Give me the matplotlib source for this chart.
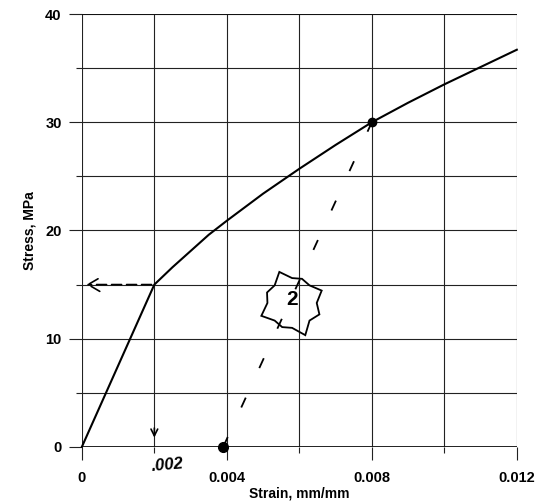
import numpy as np
import matplotlib.pyplot as plt
from matplotlib.patches import Polygon

# stress-strain curve
strain = [0.0, 0.002, 0.0025, 0.003, 0.0035, 0.004, 0.005, 0.006, 0.007, 0.008,
          0.009, 0.010, 0.011, 0.012]
stress = [0.0, 15.0, 16.6, 18.1, 19.6, 20.9, 23.4, 25.7, 27.9, 30.0,
          31.8, 33.5, 35.1, 36.7]

# unloading line (offset), hand drawn
unload_strain = [0.0039, 0.008]
unload_stress = [0.0, 30.0]

xticks = [0, 0.004, 0.008, 0.012]
xtick_labels = ['0', '0.004', '0.008', '0.012']
yticks = [0, 10, 20, 30, 40]

plt.rcParams['font.family'] = ['Liberation Sans', 'DejaVu Sans']
plt.rcParams['font.weight'] = 'bold'

fig = plt.figure(figsize=(5.35, 5.01), dpi=100)
ax = fig.add_axes([0.153, 0.108, 0.813, 0.864])

ax.set_xlim(0, 0.012)
ax.set_ylim(0, 40)
for s in ax.spines.values():
    s.set_visible(False)

ax.set_xticks(xticks)
ax.set_xticklabels(xtick_labels)
ax.set_yticks(yticks)
ax.set_xticks([0.002, 0.006, 0.010], minor=True)
ax.set_yticks([5, 15, 25, 35], minor=True)
ax.tick_params(which='major', direction='out', length=9.5, width=0.8, color='#222222',
               labelsize=10.5, pad=5)
ax.tick_params(axis='x', which='major', pad=8)
ax.tick_params(which='minor', direction='out', length=4.5, width=0.8, color='#222222')
ax.grid(True, which='both', color='#222222', linewidth=0.8)
ax.set_axisbelow(True)
for v in [0, 40]:
    ax.axhline(v, color='#111111', linewidth=1.3, zorder=1)

ax.plot(strain, stress, color='black', linewidth=1.5, zorder=3, clip_on=False)

ax.set_xlabel('Strain, mm/mm', fontsize=10, fontweight='bold', labelpad=1)
ax.set_ylabel('Stress, MPa', fontsize=10, fontweight='bold', labelpad=6)

# hand annotations
ax.plot(unload_strain, unload_stress, color='black', linewidth=1.3,
        dashes=(6, 18), zorder=3)
ax.plot([unload_strain[0]], [unload_stress[0]], 'o', color='black', markersize=7,
        zorder=4, clip_on=False)
ax.plot([unload_strain[1]], [unload_stress[1]], 'o', color='black', markersize=6,
        zorder=4)
ax.annotate('', xy=(0.00005, 15), xytext=(0.002, 15),
            arrowprops=dict(arrowstyle='->,head_length=0.6,head_width=0.35',
                            color='black', lw=1.2,
                            linestyle=(0, (6, 3)), mutation_scale=14))
ax.annotate('', xy=(0.002, 0.6), xytext=(0.002, 2.0),
            arrowprops=dict(arrowstyle='->', color='black', lw=1.2, mutation_scale=12))
ax.text(0.00235, -1.7, '.002', fontsize=12, fontstyle='italic', fontweight='bold',
        ha='center', va='center', rotation=5)

# turtle doodle with a "2"
ang = np.linspace(0, 2 * np.pi, 17)[:-1]
rad = np.array([1, 1.3, 1, 1.05, 1, 1.35, 1, 1.1, 1, 1.35, 1, 1.05, 1, 1.4, 1, 1.2])
tx = 0.0058 + 0.00068 * rad * np.cos(ang)
ty = 13.3 + 2.3 * rad * np.sin(ang)
ax.add_patch(Polygon(np.column_stack([tx, ty]), closed=True, fill=False,
                     edgecolor='black', linewidth=1.3, zorder=4))
ax.text(0.0058, 13.6, '2', fontsize=15, fontweight='bold', ha='center', va='center')

fig.savefig('out.png', dpi=100)
